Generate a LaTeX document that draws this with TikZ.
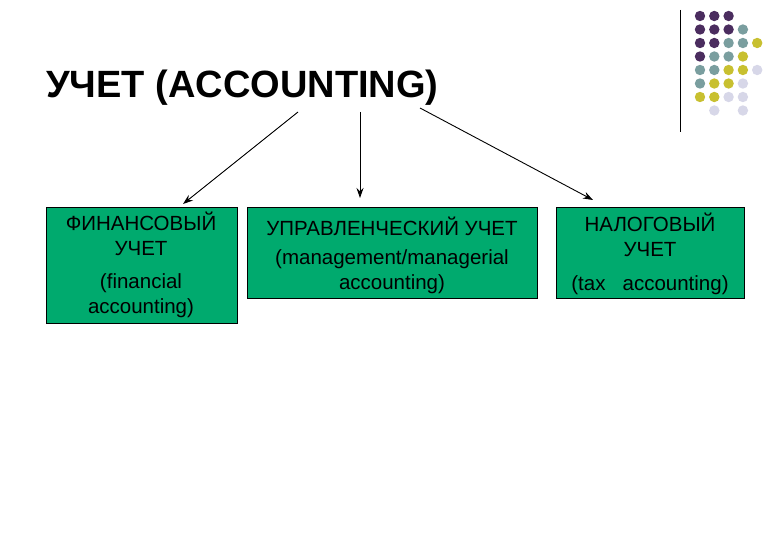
\documentclass[tikz,border=0pt]{standalone}
\usepackage{fontspec}
\setmainfont{Liberation Sans}
\usetikzlibrary{arrows.meta}
\definecolor{boxg}{RGB}{0,170,110}
\definecolor{dp}{RGB}{75,45,95}
\definecolor{dt}{RGB}{122,158,159}
\definecolor{dy}{RGB}{200,192,48}
\definecolor{dl}{RGB}{215,215,232}
\definecolor{dn}{RGB}{255,255,255}
\begin{document}
\begin{tikzpicture}[x=1pt,y=-1pt,
  box/.style={draw=black,fill=boxg,line width=0.8pt,anchor=north west,minimum height=#1,inner sep=0pt},
  txt/.style={align=center,font=\fontsize{20.5}{25}\selectfont},
  arr/.style={-{Stealth[length=10pt,width=7pt]},line width=0.9pt}]
\useasboundingbox (0,0) rectangle (780,540);
\fill[white] (0,0) rectangle (780,540);
\node[anchor=west,inner sep=0pt,font=\bfseries\fontsize{38}{44}\selectfont] (title) at (46,88) {УЧЕТ (ACCOUNTING)};
\draw[line width=1pt] (680,10) -- (680,132);
\def\dotrow#1#2{\foreach \c [count=\i from 0] in {#2} {\fill[\c] (700+14.3*\i,16+13.5*#1) circle (5.2);}}
\dotrow{0}{dp,dp,dp}
\dotrow{1}{dp,dp,dp,dt}
\dotrow{2}{dp,dp,dt,dt,dy}
\dotrow{3}{dp,dt,dt,dy}
\dotrow{4}{dt,dt,dy,dy,dl}
\dotrow{5}{dt,dy,dy,dl}
\dotrow{6}{dy,dy,dl,dl}
\dotrow{7}{dn,dl,dn,dl}
\node[box=116pt,minimum width=191pt] (b1) at (46,207) {};
\node[box=91pt,minimum width=290pt] (b2) at (247,207) {};
\node[box=91pt,minimum width=188pt] (b3) at (556,207) {};
\node[txt] at (141,234) {ФИНАНСОВЫЙ\\УЧЕТ};
\node[txt] at (141,296) {(financial\\accounting)};
\node[txt] at (392,226) {УПРАВЛЕНЧЕСКИЙ УЧЕТ};
\node[txt] at (392,272) {(management/managerial\\accounting)};
\node[txt] at (650,235) {НАЛОГОВЫЙ\\УЧЕТ};
\node[txt] at (650,285) {(tax\ \ \ accounting)};
\coordinate (s1) at (298,112); \coordinate (s2) at (360,112); \coordinate (s3) at (420,108);
\draw[arr] (s1) -- (183,204);
\draw[arr] (s2) -- (360,198);
\draw[arr] (s3) -- (593,200);
\end{tikzpicture}
\end{document}
